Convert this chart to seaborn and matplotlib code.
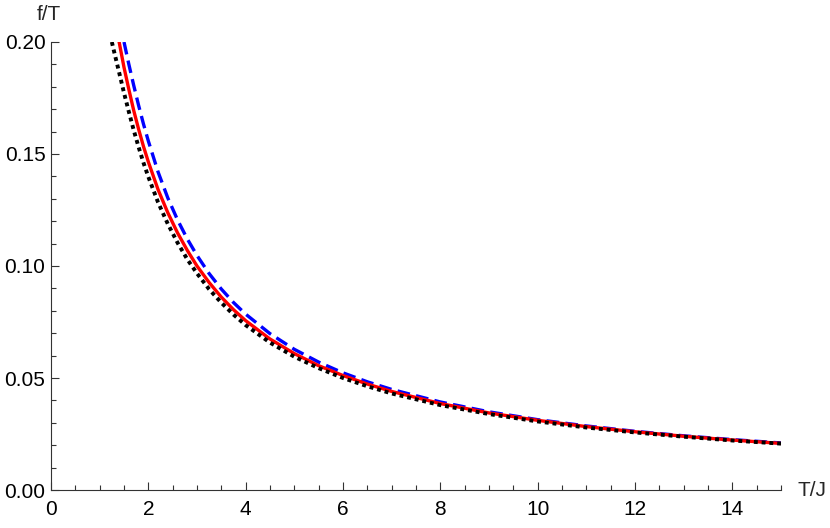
import numpy as np
import pandas as pd
import matplotlib
matplotlib.use("Agg")
import matplotlib.pyplot as plt
import seaborn as sns
from matplotlib.ticker import MultipleLocator, FormatStrFormatter

# values
T_blue = [1.5, 1.6, 1.7, 1.8, 1.9, 2.0, 2.2, 2.4, 2.6, 2.8, 3.0, 3.25, 3.5, 3.75, 4.0,
          4.5, 5.0, 5.5, 6.0, 6.5, 7.0, 8.0, 9.0, 10.0, 11.0, 12.0, 13.0, 14.0, 15.0]
f_blue = [0.2000, 0.1900, 0.1806, 0.1717, 0.1634, 0.1558, 0.1420, 0.1304, 0.1206, 0.1121,
          0.1047, 0.0966, 0.0897, 0.0837, 0.0785, 0.0698, 0.0628, 0.0571, 0.0523, 0.0483,
          0.0449, 0.0393, 0.0349, 0.0314, 0.0286, 0.0262, 0.0242, 0.0225, 0.0210]

T_red = [1.4, 1.5, 1.6, 1.7, 1.8, 1.9, 2.0, 2.2, 2.4, 2.6, 2.8, 3.0, 3.25, 3.5, 3.75, 4.0,
         4.5, 5.0, 5.5, 6.0, 6.5, 7.0, 8.0, 9.0, 10.0, 11.0, 12.0, 13.0, 14.0, 15.0]
f_red = [0.2000, 0.1887, 0.1788, 0.1694, 0.1611, 0.1534, 0.1465, 0.1341, 0.1238, 0.1148,
         0.1070, 0.1000, 0.0926, 0.0861, 0.0805, 0.0756, 0.0674, 0.0609, 0.0555, 0.0511,
         0.0473, 0.0440, 0.0386, 0.0344, 0.0311, 0.0283, 0.0260, 0.0240, 0.0223, 0.0208]

T_black = [1.25, 1.3, 1.4, 1.5, 1.6, 1.7, 1.8, 1.9, 2.0, 2.2, 2.4, 2.6, 2.8, 3.0, 3.25, 3.5,
           3.75, 4.0, 4.5, 5.0, 5.5, 6.0, 6.5, 7.0, 8.0, 9.0, 10.0, 11.0, 12.0, 13.0, 14.0, 15.0]
f_black = [0.2000, 0.1954, 0.1864, 0.1773, 0.1688, 0.1606, 0.1531, 0.1461, 0.1398, 0.1284,
           0.1188, 0.1104, 0.1030, 0.0967, 0.0896, 0.0836, 0.0783, 0.0736, 0.0658, 0.0595,
           0.0544, 0.0500, 0.0463, 0.0431, 0.0379, 0.0339, 0.0306, 0.0279, 0.0257, 0.0238,
           0.0221, 0.0207]

#%%
sns.set_style("ticks")
plt.rcParams['font.family'] = ['Liberation Sans', 'DejaVu Sans']

fig = plt.figure(figsize=(8.3, 5.28), dpi=100)
ax = fig.add_axes([51/830, 38/528, 730/830, 448/528])

sns.lineplot(x=T_blue, y=f_blue, ax=ax, color="#0000ff", linewidth=2.4,
             linestyle=(0, (3.8, 1.9)), dash_capstyle='butt', sort=False)
sns.lineplot(x=T_red, y=f_red, ax=ax, color="#ff0000", linewidth=2.4, sort=False)
sns.lineplot(x=T_black, y=f_black, ax=ax, color="black", linewidth=2.8,
             linestyle=(0, (1, 1)), dash_capstyle='butt', sort=False)

ax.set_xlim(0, 15)
ax.set_ylim(0, 0.20)
ax.xaxis.set_major_locator(MultipleLocator(2))
ax.xaxis.set_minor_locator(MultipleLocator(0.5))
ax.yaxis.set_major_locator(MultipleLocator(0.05))
ax.yaxis.set_minor_locator(MultipleLocator(0.01))
ax.yaxis.set_major_formatter(FormatStrFormatter('%.2f'))
ax.set_xticks([0, 2, 4, 6, 8, 10, 12, 14])

for side in ['top', 'right']:
    ax.spines[side].set_visible(False)
for side in ['left', 'bottom']:
    ax.spines[side].set_color('#333333')
    ax.spines[side].set_linewidth(0.8)

ax.tick_params(axis='both', which='major', direction='in', length=6, width=0.8,
               color='#333333', labelsize=15, labelcolor='black')
ax.tick_params(axis='both', which='minor', direction='in', length=3.5, width=0.8,
               color='#333333')
ax.tick_params(axis='x', which='major', pad=7)
ax.tick_params(axis='y', which='major', pad=4)

fig.text(49/830, 1 - 14/528, "f/T", ha='center', va='center', fontsize=15)
fig.text(797/830, 1 - 490/528, "T/J", ha='left', va='center', fontsize=15)

fig.savefig("out.png", dpi=100)
